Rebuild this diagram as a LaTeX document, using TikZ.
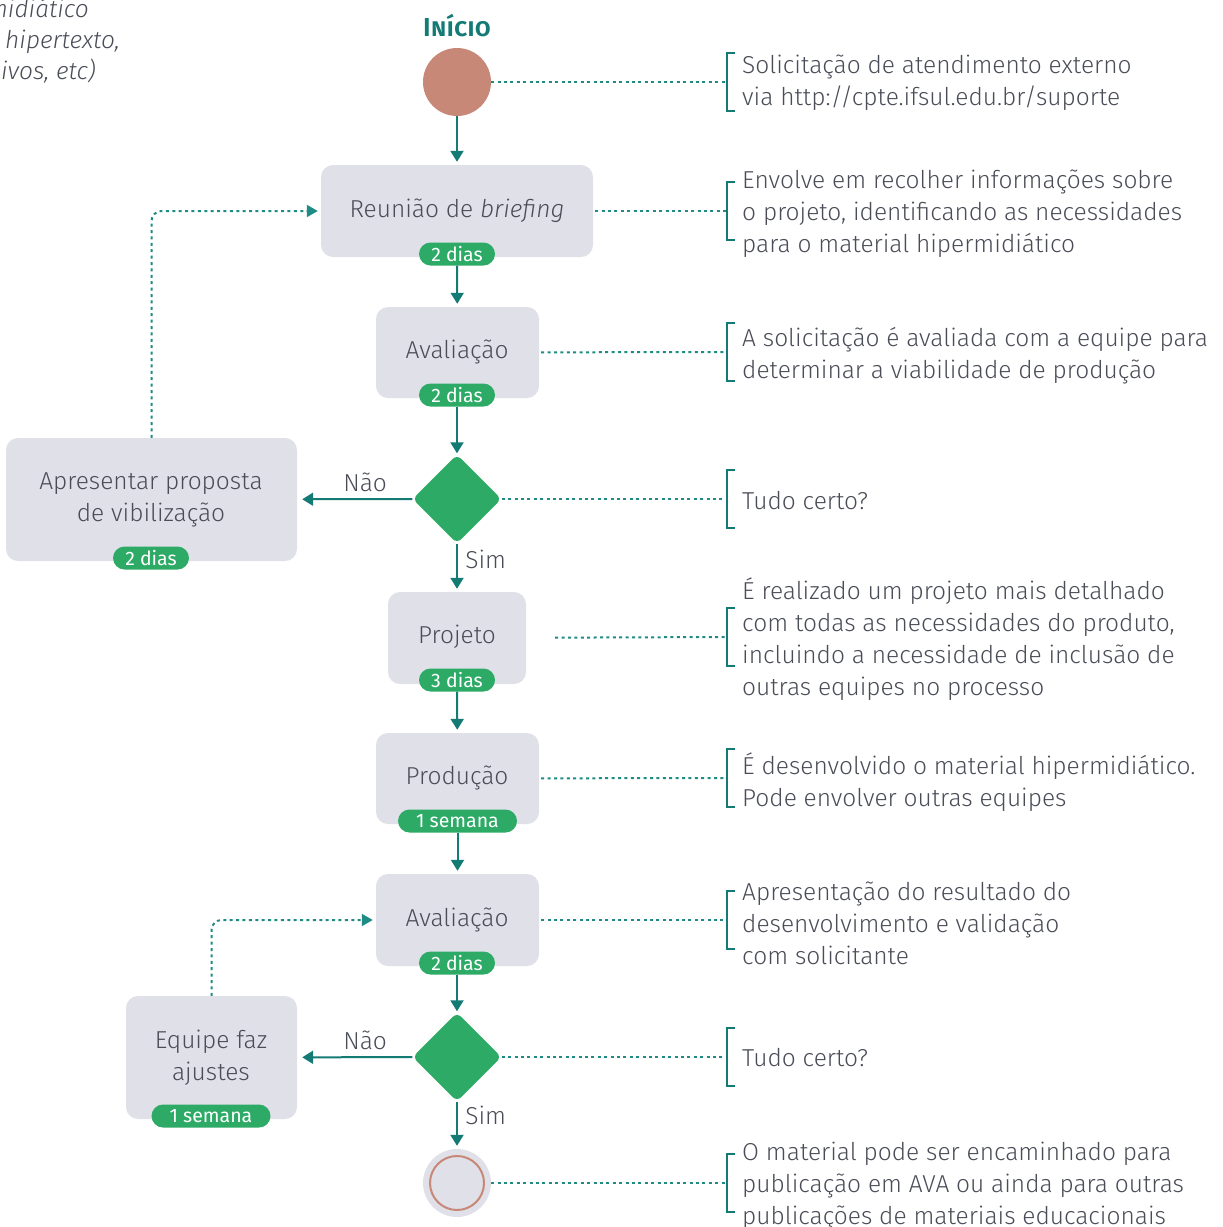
\documentclass[tikz,border=0pt]{standalone}
\usepackage{fontspec}
\setmainfont{Fira Sans Light}[ItalicFont={Fira Sans Light Italic}]
\newfontfamily\startfont{Fira Sans SemiBold}[Letters=SmallCaps]
\newfontfamily\badgefont{Fira Sans}
\usetikzlibrary{arrows.meta,shapes.geometric}
\definecolor{tealc}{HTML}{137A74}
\definecolor{dotc}{HTML}{1E8C84}
\definecolor{greenc}{HTML}{2DAB66}
\definecolor{startc}{HTML}{C78877}
\definecolor{boxc}{HTML}{E0E0E9}
\definecolor{textc}{HTML}{4A4D57}
\begin{document}
\begin{tikzpicture}[x=1pt,y=-1pt,
  box/.style={fill=boxc, rounded corners=12pt, inner sep=0},
  lbl/.style={font=\fontsize{24.5}{32}\selectfont, text=textc, align=center, inner sep=0},
  badge/.style={fill=greenc, text=white, rounded corners=11.5pt, minimum height=23pt, minimum width=76pt, inner ysep=0, inner xsep=10pt, font=\badgefont\fontsize{19.5}{22}\selectfont},
  wbadge/.style={badge, minimum width=119pt},
  dec/.style={diamond, fill=greenc, minimum width=89pt, minimum height=89pt, inner sep=0, rounded corners=6pt},
  flow/.style={draw=tealc, line width=2pt, -{Triangle[width=13pt,length=11pt]}},
  dotline/.style={draw=dotc, line width=2pt, dash pattern=on 3pt off 3.4pt},
  dotarrow/.style={dotline, rounded corners=10pt, -{Triangle[width=12pt,length=11pt]}},
  desc/.style={anchor=west, align=left, inner sep=0, text=textc, font=\fontsize{24.5}{32}\selectfont},
  note/.style={inner sep=0, text=textc, font=\fontsize{24.5}{32}\selectfont\itshape},
  edgelbl/.style={text=textc, font=\fontsize{24.5}{32}\selectfont},
  brk/.pic={\draw[draw=tealc, line width=2.8pt] (8,-29) -- (0,-29) -- (0,29) -- (8,29);}
]
\useasboundingbox (0,0) rectangle (1223,1227);

% clipped text at top left
\node[note, anchor=mid east] (n1) at (89,15) {midiático};
\node[note, anchor=mid east] (n2) at (120,46) {hipertexto,};
\node[note, anchor=mid east] (n3) at (96,77) {ivos, etc)};

% start
\node[font=\startfont\fontsize{26}{30}\selectfont, text=tealc, inner sep=0] (title) at (457,26) {Início};
\node[circle, fill=startc, minimum size=68pt, inner sep=0] (start) at (457,82) {};

% boxes
\node[box, minimum width=272pt, minimum height=92pt] (b1) at (457,211) {};
\node[lbl] (b1t) at (457,211) {Reunião de \textit{briefing}};
\node[badge] (b1d) at (457,254) {2 dias};

\node[box, minimum width=163pt, minimum height=91pt] (b2) at (457.5,352.5) {};
\node[lbl] (b2t) at (457,352) {Avaliação};
\node[badge] (b2d) at (457,395) {2 dias};

\node[dec] (d1) at (457,499) {};

\node[box, minimum width=291pt, minimum height=123pt] (b3) at (151.5,499.5) {};
\node[lbl] (b3t) at (151,500) {Apresentar proposta\\de vibilização};
\node[badge] (b3d) at (151,558) {2 dias};

\node[box, minimum width=138pt, minimum height=92pt] (b4) at (457,638) {};
\node[lbl] (b4t) at (457,637) {Projeto};
\node[badge] (b4d) at (457,680) {3 dias};

\node[box, minimum width=163pt, minimum height=91pt] (b5) at (457.5,778.5) {};
\node[lbl] (b5t) at (457,778) {Produção};
\node[wbadge] (b5d) at (457.5,821) {1 semana};

\node[box, minimum width=163pt, minimum height=92pt] (b6) at (457.5,920) {};
\node[lbl] (b6t) at (457,920) {Avaliação};
\node[badge] (b6d) at (457,963) {2 dias};

\node[dec] (d2) at (457,1057) {};

\node[box, minimum width=171pt, minimum height=123pt] (b7) at (211.5,1057.5) {};
\node[lbl] (b7t) at (211,1058) {Equipe faz\\ajustes};
\node[wbadge] (b7d) at (211,1116) {1 semana};

\node[circle, fill=boxc, minimum size=68pt, inner sep=0] (end) at (457,1183) {};
\node[circle, draw=startc, line width=2pt, minimum size=54pt, inner sep=0] (endi) at (457,1183) {};

% flow arrows
\draw[flow, shorten >=3pt] (start) -- (b1);
\draw[flow, shorten >=3pt] (b1d) -- (b2);
\draw[flow, shorten >=1pt] (b2d) -- (d1);
\draw[flow, shorten >=5pt] (d1) -- node[pos=0.41, above=3pt, edgelbl] (l1) {Não} (b3);
\draw[flow, shorten >=3pt] (d1) -- node[pos=0.32, right=4pt, edgelbl] (l2) {Sim} (b4);
\draw[flow, shorten >=3pt] (b4d) -- (b5);
\draw[flow, shorten >=3pt] (b5d) -- (b6);
\draw[flow, shorten >=1pt] (b6d) -- (d2);
\draw[flow, shorten >=5pt] (d2) -- node[pos=0.41, above=3pt, edgelbl] (l3) {Não} (b7);
\draw[flow, shorten >=3pt] (d2) -- node[pos=0.3, right=4pt, edgelbl] (l4) {Sim} (end);

% feedback loops
\draw[dotarrow, shorten >=3pt] (b3.north) |- (b1.west);
\draw[dotarrow, shorten >=3pt] (b7.north) |- (b6.west);

% right-hand descriptions
\coordinate (k1) at (727,82);
\coordinate (k2) at (727,211);
\coordinate (k3) at (727,352);
\coordinate (k4) at (727,499);
\coordinate (k5) at (727,637);
\coordinate (k6) at (727,778);
\coordinate (k7) at (727,920);
\coordinate (k8) at (727,1057);
\coordinate (k9) at (727,1183);

\draw[dotline] (start) -- (k1);
\draw[dotline, shorten <=2pt] (b1) -- (k2);
\draw[dotline, shorten <=2pt] (b2) -- (k3);
\draw[dotline] (d1) -- (k4);
\draw[dotline, shorten <=29pt] (b4) -- (k5);
\draw[dotline, shorten <=2pt] (b5) -- (k6);
\draw[dotline, shorten <=2pt] (b6) -- (k7);
\draw[dotline] (d2) -- (k8);
\draw[dotline] (end) -- (k9);

\foreach \k in {k1,k2,k3,k4,k5,k6,k7,k8,k9} { \pic at (\k) {brk}; }

\node[desc] (t1) at (742,83) {Solicitação de atendimento externo\\via http://cpte.ifsul.edu.br/suporte};
\node[desc] (t2) at (742,214) {Envolve em recolher informações sobre\\o projeto, identificando as necessidades\\para o material hipermidiático};
\node[desc] (t3) at (742,356) {A solicitação é avaliada com a equipe para\\determinar a viabilidade de produção};
\node[desc] (t4) at (742,501) {Tudo certo?};
\node[desc] (t5) at (742,639) {É realizado um projeto mais detalhado\\com todas as necessidades do produto,\\incluindo a necessidade de inclusão de\\outras equipes no processo};
\node[desc] (t6) at (742,782) {É desenvolvido o material hipermidiático.\\Pode envolver outras equipes};
\node[desc] (t7) at (742,923) {Apresentação do resultado do\\desenvolvimento e validação\\com solicitante};
\node[desc] (t8) at (742,1058) {Tudo certo?};
\node[desc] (t9) at (742,1186) {O material pode ser encaminhado para\\publicação em AVA ou ainda para outras\\publicações de materiais educacionais};
\end{tikzpicture}
\end{document}
